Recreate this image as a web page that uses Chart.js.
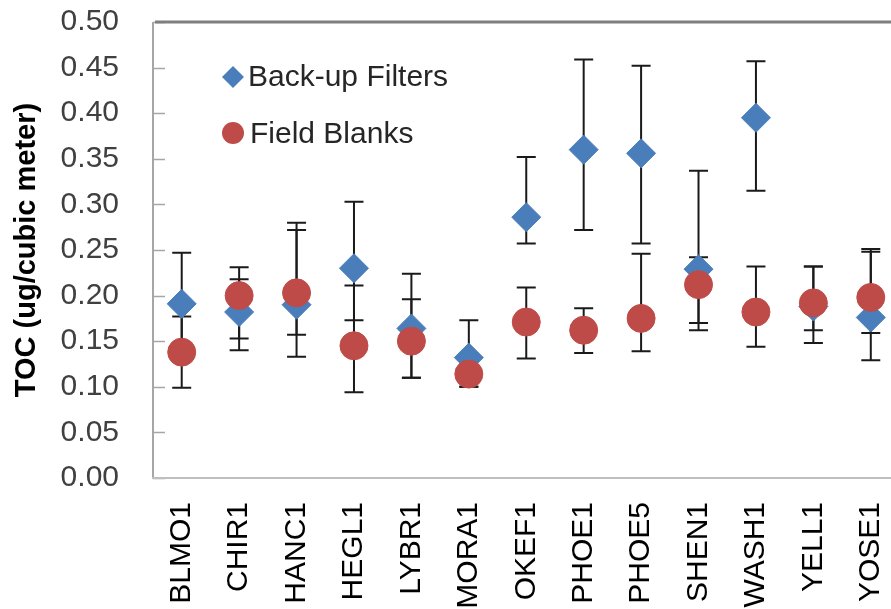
<!DOCTYPE html>
<html>
<head>
<meta charset="utf-8">
<script src="https://cdn.jsdelivr.net/npm/chart.js@4/dist/chart.umd.min.js"></script>
<style>
  html, body { margin: 0; padding: 0; background: #ffffff; overflow: hidden; }
  #wrap { width: 915px; height: 609px; }
</style>
</head>
<body>
<div id="wrap"><canvas id="c" width="915" height="609"></canvas></div>
<script>
const categories = ['BLMO1','CHIR1','HANC1','HEGL1','LYBR1','MORA1','OKEF1','PHOE1','PHOE5','SHEN1','WASH1','YELL1','YOSE1'];

const backupFilters = [0.191, 0.182, 0.190, 0.230, 0.164, 0.132, 0.286, 0.360, 0.356, 0.229, 0.395, 0.188, 0.176];
const backupHigh    = [0.247, 0.218, 0.280, 0.303, 0.224, 0.173, 0.352, 0.459, 0.452, 0.337, 0.457, 0.232, 0.248];
const backupLow     = [0.135, 0.153, 0.157, 0.173, 0.110, 0.100, 0.257, 0.272, 0.257, 0.162, 0.315, 0.148, 0.129];

const fieldBlanks   = [0.138, 0.200, 0.203, 0.145, 0.150, 0.114, 0.171, 0.162, 0.175, 0.212, 0.182, 0.192, 0.198];
const blanksHigh    = [0.177, 0.231, 0.272, 0.211, 0.196, 0.128, 0.209, 0.186, 0.246, 0.242, 0.232, 0.232, 0.251];
const blanksLow     = [0.099, 0.140, 0.133, 0.094, 0.110, 0.100, 0.131, 0.137, 0.139, 0.170, 0.144, 0.162, 0.159];

const yTicks = [0.00, 0.05, 0.10, 0.15, 0.20, 0.25, 0.30, 0.35, 0.40, 0.45, 0.50];

const BLUE = '#4A7EBB';
const RED = '#BE4B48';
const FONT = '"Liberation Sans", Arial, sans-serif';

const errorBars = {
  id: 'errorBars',
  beforeDatasetsDraw(chart) {
    const ctx = chart.ctx;
    const x = chart.scales.x, y = chart.scales.y;
    ctx.save();
    ctx.strokeStyle = '#1a1a1a';
    ctx.lineWidth = 2;
    const cap = 9.5;
    const pairs = [[backupHigh, backupLow], [blanksHigh, blanksLow]];
    pairs.forEach(([hi, lo]) => {
      hi.forEach((h, i) => {
        const px = x.getPixelForValue(i);
        const yh = y.getPixelForValue(h);
        const yl = y.getPixelForValue(lo[i]);
        ctx.beginPath();
        ctx.moveTo(px, yh); ctx.lineTo(px, yl);
        ctx.moveTo(px - cap, yh); ctx.lineTo(px + cap, yh);
        ctx.moveTo(px - cap, yl); ctx.lineTo(px + cap, yl);
        ctx.stroke();
      });
    });
    ctx.restore();
  }
};

const frame = {
  id: 'frame',
  beforeDraw(chart) {
    const ctx = chart.ctx;
    const a = chart.chartArea;
    const y = chart.scales.y;
    ctx.save();
    ctx.strokeStyle = '#a6a6a6';
    ctx.lineWidth = 2;
    ctx.beginPath();
    ctx.moveTo(a.left, a.top); ctx.lineTo(a.left, a.bottom + 1);
    ctx.stroke();
    ctx.lineWidth = 1.5;
    yTicks.forEach(v => {
      const py = Math.round(y.getPixelForValue(v)) + 0.5;
      ctx.beginPath();
      ctx.moveTo(a.left, py); ctx.lineTo(a.left + 12, py);
      ctx.stroke();
    });
    ctx.strokeStyle = '#bfbfbf';
    ctx.lineWidth = 2;
    ctx.beginPath();
    ctx.moveTo(a.left - 1, a.bottom); ctx.lineTo(a.right, a.bottom);
    ctx.stroke();
    ctx.strokeStyle = '#7f7f7f';
    ctx.lineWidth = 3;
    ctx.beginPath();
    ctx.moveTo(a.left + 2, a.top); ctx.lineTo(a.right, a.top);
    ctx.stroke();
    ctx.restore();
  }
};

const innerLegend = {
  id: 'innerLegend',
  afterDraw(chart) {
    const ctx = chart.ctx;
    ctx.save();
    const dx = 233, dy = 77, r = 11;
    ctx.fillStyle = BLUE;
    ctx.beginPath();
    ctx.moveTo(dx, dy - r); ctx.lineTo(dx + r, dy); ctx.lineTo(dx, dy + r); ctx.lineTo(dx - r, dy);
    ctx.closePath(); ctx.fill();
    ctx.fillStyle = RED;
    ctx.beginPath();
    ctx.arc(233, 133, 11, 0, Math.PI * 2);
    ctx.fill();
    ctx.fillStyle = '#262626';
    ctx.font = '30px ' + FONT;
    ctx.textBaseline = 'middle';
    ctx.textAlign = 'left';
    ctx.fillText(chart.data.datasets[0].label, 248, 78);
    ctx.fillText(chart.data.datasets[1].label, 250, 135);
    ctx.restore();
  }
};

new Chart(document.getElementById('c'), {
  type: 'line',
  data: {
    labels: categories,
    datasets: [
      {
        label: 'Back-up Filters',
        data: backupFilters,
        showLine: false,
        pointStyle: 'rectRot',
        pointRadius: 14.5,
        pointHoverRadius: 14.5,
        backgroundColor: BLUE,
        borderColor: BLUE,
        pointBorderWidth: 1,
        order: 1
      },
      {
        label: 'Field Blanks',
        data: fieldBlanks,
        showLine: false,
        pointStyle: 'circle',
        pointRadius: 14,
        pointHoverRadius: 14,
        backgroundColor: RED,
        borderColor: RED,
        pointBorderWidth: 1,
        order: 0
      }
    ]
  },
  options: {
    responsive: false,
    animation: false,
    devicePixelRatio: 1,
    layout: { padding: { left: 0, top: 22, right: 1, bottom: 0 } },
    plugins: {
      legend: { display: false },
      tooltip: { enabled: false }
    },
    scales: {
      x: {
        type: 'category',
        offset: true,
        grid: { display: false, drawTicks: false },
        border: { display: false },
        ticks: {
          color: '#000000',
          font: { family: FONT, size: 30 },
          minRotation: 90,
          maxRotation: 90,
          padding: 24,
          autoSkip: false
        },
        afterFit(scale) { scale.height = 131; scale.paddingLeft = 0; scale.paddingRight = 0; }
      },
      y: {
        min: 0,
        max: 0.5,
        afterBuildTicks(scale) { scale.ticks = yTicks.map(v => ({ value: v })); },
        grid: { display: false, drawTicks: false },
        border: { display: false },
        ticks: {
          color: '#404040',
          font: { family: FONT, size: 30 },
          padding: 34,
          callback: v => Number(v).toFixed(2)
        },
        title: {
          display: true,
          text: 'TOC (ug/cubic meter)',
          color: '#000000',
          font: { family: FONT, size: 29, weight: 'bold' },
          padding: { top: 10, bottom: 0 }
        },
        afterFit(scale) { scale.width = 153; scale.paddingTop = 0; scale.paddingBottom = 0; }
      }
    }
  },
  plugins: [frame, errorBars, innerLegend]
});
</script>
</body>
</html>
